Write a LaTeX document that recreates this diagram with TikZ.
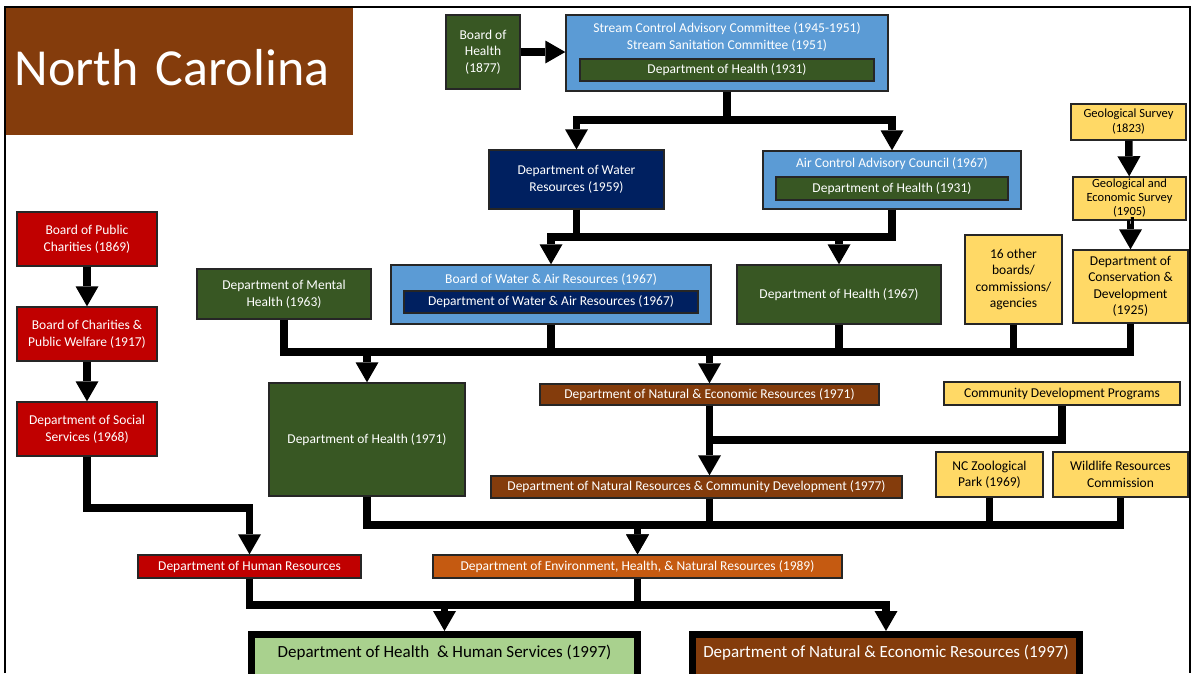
\documentclass[tikz,border=0pt]{standalone}
\usepackage{fontspec}
\setmainfont{Carlito}
\usetikzlibrary{arrows.meta}

\definecolor{ncbrown}{HTML}{843C0C}
\definecolor{ncgreen}{HTML}{385723}
\definecolor{ncblue}{HTML}{5B9BD5}
\definecolor{ncnavy}{HTML}{002060}
\definecolor{ncred}{HTML}{C00000}
\definecolor{ncgold}{HTML}{FFD966}
\definecolor{ncorange}{HTML}{C55A11}
\definecolor{nclight}{HTML}{A9D18E}

\begin{document}
\begin{tikzpicture}[%
        x=1pt, y=-1pt,
        box/.style={
            % the shape:
            rectangle,
            inner sep=0pt,
            % the rest:
            draw=black!85,
            line width=1.4pt,
            text=white,
            align=center,
            font=\fontsize{13.5}{16.5}\selectfont,
        },
        dims/.style 2 args={minimum width=#1pt, minimum height=#2pt},
        greenbox/.style={box, fill=ncgreen},
        bluebox/.style={box, fill=ncblue},
        navybox/.style={box, fill=ncnavy},
        redbox/.style={box, fill=ncred},
        brownbox/.style={box, fill=ncbrown},
        orangebox/.style={box, fill=ncorange},
        goldbox/.style={box, fill=ncgold, text=black},
        heading/.style={
            text=white,
            align=center,
            inner sep=0pt,
            font=\fontsize{13.5}{16.5}\selectfont,
        },
        final/.style={
            box,
            anchor=north,
            draw=black,
            line width=7pt,
            text height=22.5pt,
            text depth=40pt,
            font=\fontsize{17}{20}\selectfont,
        },
        link/.style={line width=7.5pt},
        >={Triangle[width=23pt,length=20pt,line width=0pt]},
    ]

    \useasboundingbox (0,0) rectangle (1192,673);
    \clip (0,0) rectangle (1192,673);

    \node[box, draw=none, fill=ncbrown, anchor=north west, dims={347}{127},
        text width=329pt, inner xsep=9pt, align=left, text depth=7pt,
        font=\fontsize{52}{60}\selectfont] (title) at (5,7) {North Carolina};

    % health and water committees
    \node[greenbox, dims={74}{74}] (boh) at (483,52) {Board of\\Health\\(1877)};
    \node[bluebox, dims={322}{76}] (stream) at (727,53) {};
    \node[heading] (streamname) at (727,37)
        {Stream Control Advisory Committee (1945-1951)\\Stream Sanitation Committee (1951)};
    \node[greenbox, dims={294}{22}] (dh31a) at (727,70) {Department of Health (1931)};

    \node[navybox, dims={175}{59}] (water) at (576.5,179.5) {Department of Water\\Resources (1959)};
    \node[bluebox, dims={258}{58}] (air) at (892,180) {};
    \node[heading] (airname) at (892,164) {Air Control Advisory Council (1967)};
    \node[greenbox, dims={232}{23}] (dh31b) at (892,188.5) {Department of Health (1931)};

    \node[bluebox, dims={320}{59}] (bwa) at (551,294.5) {};
    \node[heading] (bwaname) at (551,279) {Board of Water \& Air Resources (1967)};
    \node[navybox, dims={294}{22}] (dwa) at (551,302) {Department of Water \& Air Resources (1967)};
    \node[greenbox, dims={204}{59}] (dh67) at (839,294.5) {Department of Health (1967)};
    \node[greenbox, dims={174}{50}] (mental) at (284,294) {Department of Mental\\Health (1963)};

    % surveys and other agencies
    \node[goldbox, dims={115}{36}, font=\fontsize{12.5}{15}\selectfont] (geo) at (1128.5,122)
        {Geological Survey\\(1823)};
    \node[goldbox, dims={113}{43}, font=\fontsize{12.5}{14}\selectfont] (geoeco) at (1129.5,198.5)
        {Geological and\\Economic Survey\\(1905)};
    \node[goldbox, dims={115}{73}] (conserv) at (1130.5,286.5)
        {Department of\\Conservation \&\\Development\\(1925)};
    \node[goldbox, dims={97}{89}] (other16) at (1013.5,279.5)
        {16 other\\boards/\\commissions/\\agencies};

    % 1970s
    \node[greenbox, dims={196}{113}] (dh71) at (367,439.5) {Department of Health (1971)};
    \node[brownbox, dims={339}{21}] (ner71) at (709.5,394.5)
        {Department of Natural \& Economic Resources (1971)};
    \node[goldbox, dims={236}{23}] (cdp) at (1062,393.5) {Community Development Programs};
    \node[brownbox, dims={411}{22}] (dnrcd) at (696.5,487)
        {Department of Natural Resources \& Community Development (1977)};
    \node[goldbox, dims={107}{45}] (zoo) at (989.5,474.5) {NC Zoological\\Park (1969)};
    \node[goldbox, dims={135}{45}] (wild) at (1120.5,474.5) {Wildlife Resources\\Commission};

    % social services
    \node[redbox, dims={140}{54}] (bpc) at (87,239) {Board of Public\\Charities (1869)};
    \node[redbox, dims={140}{54}] (bcpw) at (87,334) {Board of Charities \&\\Public Welfare (1917)};
    \node[redbox, dims={140}{54}] (dss) at (87,429) {Department of Social\\Services (1968)};
    \node[redbox, dims={223}{23}] (dhr) at (249.5,566.5) {Department of Human Resources};
    \node[orangebox, dims={409}{23}] (dehnr) at (637.5,566.5)
        {Department of Environment, Health, \& Natural Resources (1989)};

    % 1997
    \node[final, fill=nclight, text=black, minimum width=386pt] (dhhs) at (444.5,631)
        {Department of Health\ \ \& Human Services (1997)};
    \node[final, fill=ncbrown, minimum width=387pt] (dner) at (886,631)
        {Department of Natural \& Economic Resources (1997)};

    \draw[link,->] (boh.east) -- (boh.east -| stream.west);
    \coordinate (j1) at (727,120);
    \draw[link,->] (stream.south) -- (j1) -| (water.north);
    \draw[link,->] (j1) -| (air.north);

    \coordinate (j2) at (0,237);
    \draw[link,->] (water.south) -- (water.south |- j2) -| (dh67.north);
    \draw[link,->] (air.south) -- (air.south |- j2) -| (bwa.north);

    \coordinate (j3) at (0,352);
    \draw[link,->] (mental.south) -- (mental.south |- j3) -| (ner71.north);
    \draw[link,->] (conserv.south) -- (conserv.south |- j3) -| (dh71.north);
    \foreach \n in {bwa, dh67, other16}
        \draw[link] (\n.south) -- (\n.south |- j3);

    \draw[link,->] (geo) -- (geoeco);
    \draw[link,->] (geoeco) -- (geoeco.south -| conserv.north) -- (conserv.north);

    \coordinate (j4) at (0,440);
    \draw[link,->] (ner71.south) -- (ner71.south |- dnrcd.north);
    \draw[link] (cdp.south) |- (ner71.south |- j4);

    \coordinate (j5) at (0,525);
    \draw[link,->] (dh71.south) -- (dh71.south |- j5) -| (dehnr.north);
    \draw[link,->] (wild.south) -- (wild.south |- j5) -| (dehnr.north);
    \draw[link] (zoo.south) -- (zoo.south |- j5);
    \draw[link] (ner71.south |- dnrcd.south) -- (ner71.south |- j5);

    \coordinate (j6) at (0,508);
    \draw[link,->] (bpc) -- (bcpw);
    \draw[link,->] (bcpw) -- (dss);
    \draw[link,->] (dss.south) -- (dss.south |- j6) -| (dhr.north);

    \coordinate (j7) at (0,605);
    \draw[link,->] (dhr.south) -- (dhr.south |- j7) -| (dner.north);
    \draw[link,->] (dehnr.south) -- (dehnr.south |- j7) -| (dhhs.north);

    % slide frame
    \draw[line width=2.5pt] (5,673) -- (5,7) -- (1190,7) -- (1190,673);

\end{tikzpicture}
\end{document}
